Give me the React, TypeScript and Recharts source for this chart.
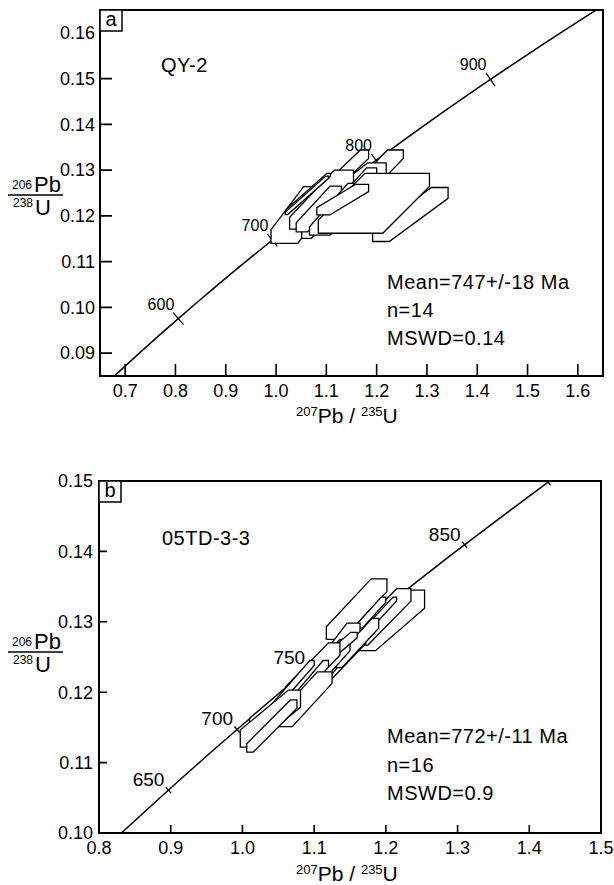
import React from "react";
import { ComposedChart, Line, Scatter, XAxis, YAxis, ReferenceArea } from "recharts";

// U decay constants (per year), used to place the concordia
const L238 = 1.55125e-10;
const L235 = 9.8485e-10;

// ages (Ma) the concordia curve is traced through
const curveAges = [
  500, 520, 540, 560, 580, 600, 620, 640, 660, 680, 700, 720, 740, 760, 780, 800, 820, 840, 860, 880, 900,
  920, 940, 960, 980, 1000,
];

// panel a : QY-2
const qyXTicks = [0.7, 0.8, 0.9, 1.0, 1.1, 1.2, 1.3, 1.4, 1.5, 1.6];
const qyYTicks = [0.09, 0.1, 0.11, 0.12, 0.13, 0.14, 0.15, 0.16];
const qyAgeTicks = [600, 700, 800, 900];
const qyAgeLabels = [600, 700, 800, 900];
// error boxes [207/235 low, 207/235 high, 206/238 low, 206/238 high]
const qyBoxes: [number, number, number, number][] = [
  [1.192, 1.342, 0.1144, 0.1262],
  [1.148, 1.253, 0.1242, 0.1344],
  [1.088, 1.184, 0.1242, 0.1344],
  [1.088, 1.219, 0.1213, 0.1316],
  [0.99, 1.108, 0.114, 0.1264],
  [1.051, 1.148, 0.1151, 0.1253],
  [1.027, 1.154, 0.1171, 0.13],
  [1.04, 1.13, 0.1165, 0.1265],
  [1.1, 1.2, 0.1185, 0.1305],
  [1.02, 1.108, 0.1207, 0.1293],
  [1.018, 1.104, 0.1203, 0.1287],
  [1.0665, 1.184, 0.1158, 0.1271],
  [1.084, 1.305, 0.1162, 0.1293],
  [1.081, 1.184, 0.1202, 0.1269],
];
// share of width / height cut off by the correlated band
const qyCuts: [number, number][] = [
  [0.22, 0.2], [0.3, 0.18], [0.17, 0.18], [0.28, 0.22], [0.45, 0.24], [0.2, 0.18], [0.3, 0.2],
  [0.25, 0.2], [0.2, 0.2], [0.08, 0.08], [0.06, 0.06], [0.35, 0.16], [0.58, 0.22], [0.25, 0.24],
];

// panel b : 05TD-3-3
const tdXTicks = [0.8, 0.9, 1.0, 1.1, 1.2, 1.3, 1.4, 1.5];
const tdYTicks = [0.1, 0.11, 0.12, 0.13, 0.14, 0.15];
const tdAgeTicks = [650, 700, 750, 800, 850, 900];
const tdAgeLabels = [650, 700, 750, 850];
const tdBoxes: [number, number, number, number][] = [
  [1.159, 1.254, 0.1259, 0.1345],
  [1.155, 1.235, 0.1267, 0.1347],
  [1.117, 1.2015, 0.1275, 0.1361],
  [1.165, 1.215, 0.128, 0.1335],
  [1.12, 1.2, 0.1245, 0.1335],
  [1.106, 1.172, 0.1213, 0.1291],
  [1.099, 1.164, 0.1215, 0.1298],
  [1.13, 1.19, 0.1235, 0.1305],
  [1.08, 1.15, 0.1195, 0.1275],
  [1.01, 1.16, 0.1155, 0.1285],
  [1.06, 1.136, 0.119, 0.127],
  [1.07, 1.12, 0.1185, 0.1245],
  [1.049, 1.125, 0.1151, 0.1229],
  [1.04, 1.1, 0.1175, 0.1245],
  [0.997, 1.081, 0.1122, 0.1203],
  [1.006, 1.076, 0.1115, 0.1189],
];
const tdCuts: [number, number][] = [
  [0.28, 0.3], [0.25, 0.22], [0.26, 0.21], [0.1, 0.1], [0.08, 0.08], [0.2, 0.28], [0.28, 0.25],
  [0.15, 0.2], [0.2, 0.2], [0.06, 0.06], [0.21, 0.22], [0.15, 0.15], [0.27, 0.21], [0.1, 0.1],
  [0.2, 0.3], [0.13, 0.16],
];

const FONT = "'Liberation Sans', Arial, Helvetica, sans-serif";
const X_AXIS_H = 30;
const Y_AXIS_W = 60;

const concordia = curveAges.map((a) => ({
  x: Math.exp(L235 * a * 1e6) - 1,
  y: Math.exp(L238 * a * 1e6) - 1,
}));

const hexShape = (fx: number, fy: number) => (p: any) => {
  const { x, y, width: w, height: h } = p;
  const L = x, R = x + w, T = y, B = y + h;
  const pts = [
    [L, B], [L, B - fy * h], [R - fx * w, T], [R, T], [R, T + fy * h], [L + fx * w, B],
  ];
  return (
    <polygon
      points={pts.map((q) => q.join(",")).join(" ")}
      fill="#fff"
      stroke="#000"
      strokeWidth={1.3}
    />
  );
};

interface PanelProps {
  width: number;
  height: number;
  plot: { top: number; right: number; bottom: number; left: number };
  xDomain: [number, number];
  yDomain: [number, number];
  xTicks: number[];
  yTicks: number[];
  ageTicks: number[];
  ageLabels: number[];
  boxes: [number, number, number, number][];
  cuts: [number, number][];
  letter: string;
  tickLen: number;
  crossHalf: number;
  ageFont: number;
  ageDx: number;
  ageDy: number;
  yLabelGap: number;
  hideY: number[];
}

const Panel = (p: PanelProps) => {
  const plotW = p.width - p.plot.left - p.plot.right;
  const plotH = p.height - p.plot.top - p.plot.bottom;
  const kx = plotW / (p.xDomain[1] - p.xDomain[0]);
  const ky = plotH / (p.yDomain[1] - p.yDomain[0]);
  const margin = {
    top: p.plot.top,
    right: p.plot.right,
    bottom: p.plot.bottom - X_AXIS_H,
    left: p.plot.left - Y_AXIS_W,
  };
  const near = (a: number, b: number) => Math.abs(a - b) < 1e-9;
  const innerX = p.xTicks.filter((v) => !near(v, p.xDomain[0]) && !near(v, p.xDomain[1]));
  const innerY = p.yTicks.filter(
    (v) => !near(v, p.yDomain[0]) && !near(v, p.yDomain[1]) && !p.hideY.some((h) => near(h, v)),
  );

  const crosses = p.ageTicks.map((a) => ({
    age: a,
    x: Math.exp(L235 * a * 1e6) - 1,
    y: Math.exp(L238 * a * 1e6) - 1,
  }));

  const crossShape = (s: any) => {
    const { cx, cy, payload } = s;
    const t = payload.age * 1e6;
    const dx = L235 * Math.exp(L235 * t) * kx;
    const dy = L238 * Math.exp(L238 * t) * ky;
    const n = Math.hypot(dx, dy);
    const nx = dy / n, ny = dx / n;
    return (
      <g>
        <line
          x1={cx - nx * p.crossHalf}
          y1={cy - ny * p.crossHalf}
          x2={cx + nx * p.crossHalf}
          y2={cy + ny * p.crossHalf}
          stroke="#000"
          strokeWidth={1.3}
        />
        {p.ageLabels.includes(payload.age) && (
          <text x={cx + p.ageDx} y={cy + p.ageDy} textAnchor="end" fontSize={p.ageFont} fontFamily={FONT} fill="#000">
            {payload.age}
          </text>
        )}
      </g>
    );
  };

  const xTick = (t: any) => (
    <text x={t.x} y={t.y + 21} textAnchor="middle" fontSize={18} fontFamily={FONT} fill="#000">
      {t.payload.value.toFixed(1)}
    </text>
  );

  const yTick = (t: any) => (
    <text x={t.x - p.yLabelGap} y={t.y} dy="0.35em" textAnchor="end" fontSize={18} fontFamily={FONT} fill="#000">
      {t.payload.value.toFixed(2)}
    </text>
  );

  // frame, inward tick marks and panel letter, placed on the plot rectangle the library computes
  const frameShape = (s: any) => {
    const x = Number(s.x), y = Number(s.y), width = Number(s.width), height = Number(s.height);
    const px = (v: number) => x + ((v - p.xDomain[0]) / (p.xDomain[1] - p.xDomain[0])) * width;
    const py = (v: number) => y + height - ((v - p.yDomain[0]) / (p.yDomain[1] - p.yDomain[0])) * height;
    const marks: string[] = [];
    innerX.forEach((v) => marks.push(`M${px(v)},${y + height}V${y + height - p.tickLen}`));
    innerY.forEach((v) => marks.push(`M${x},${py(v)}H${x + p.tickLen}`));
    return (
      <g>
        <path d={marks.join("")} stroke="#000" strokeWidth={1.6} fill="none" />
        <rect x={x} y={y} width={width} height={height} fill="none" stroke="#000" strokeWidth={2} />
        <rect x={x} y={y} width={22} height={21} fill="#fff" stroke="#000" strokeWidth={1.5} />
        <text x={x + 11} y={y + 16} textAnchor="middle" fontSize={20} fontFamily={FONT} fill="#000">
          {p.letter}
        </text>
      </g>
    );
  };

  return (
    <ComposedChart width={p.width} height={p.height} data={concordia} margin={margin}>
      <XAxis
        type="number"
        dataKey="x"
        domain={p.xDomain}
        ticks={p.xTicks}
        allowDataOverflow
        height={X_AXIS_H}
        axisLine={false}
        tickLine={false}
        tickSize={0}
        tickMargin={0}
        interval={0}
        tick={xTick}
      />
      <YAxis
        type="number"
        dataKey="y"
        domain={p.yDomain}
        ticks={p.yTicks}
        allowDataOverflow
        width={Y_AXIS_W}
        axisLine={false}
        tickLine={false}
        tickSize={0}
        tickMargin={0}
        interval={0}
        tick={yTick}
      />
      <Line type="linear" dataKey="y" stroke="#000" strokeWidth={1.5} dot={false} isAnimationActive={false} />
      <Scatter data={crosses} dataKey="y" shape={crossShape} isAnimationActive={false} />
      {p.boxes.map((b, i) => (
        <ReferenceArea
          key={i}
          x1={b[0]}
          x2={b[1]}
          y1={b[2]}
          y2={b[3]}
          zIndex={650}
          shape={hexShape(p.cuts[i][0], p.cuts[i][1])}
        />
      ))}
      <ReferenceArea
        x1={p.xDomain[0]}
        x2={p.xDomain[1]}
        y1={p.yDomain[0]}
        y2={p.yDomain[1]}
        zIndex={700}
        shape={frameShape}
      />
    </ComposedChart>
  );
};

const txt = { fontFamily: FONT, fill: "#000" };

const Fraction = ({ line }: { line: number }) => (
  <g>
    <text x={12} y={line - 6} fontSize={12} {...txt}>206</text>
    <text x={34} y={line - 3} fontSize={22} {...txt}>Pb</text>
    <line x1={8} x2={63} y1={line} y2={line} stroke="#000" strokeWidth={1.5} />
    <text x={13} y={line + 12} fontSize={12} {...txt}>238</text>
    <text x={35} y={line + 20} fontSize={22} {...txt}>U</text>
  </g>
);

const XTitle = ({ y }: { y: number }) => (
  <text x={296} y={y} fontSize={21} {...txt}>
    <tspan fontSize={13} dy={-7}>207</tspan>
    <tspan dy={7}>Pb / </tspan>
    <tspan fontSize={13} dy={-7}>235</tspan>
    <tspan dy={7}>U</tspan>
  </text>
);

const Note = ({ x, y, children }: { x: number; y: number; children: React.ReactNode }) => (
  <text x={x} y={y} fontSize={20} letterSpacing={0.5} {...txt}>
    {children}
  </text>
);

export default function App() {
  return (
    <div style={{ position: "absolute", left: 0, top: 0, width: 614, height: 885, background: "#fff", fontFamily: FONT }}>
      <div style={{ position: "absolute", left: 0, top: 0 }}>
        <Panel
          width={614}
          height={420}
          plot={{ top: 10, right: 11, bottom: 44, left: 100 }}
          xDomain={[0.65, 1.65]}
          yDomain={[0.085, 0.165]}
          xTicks={qyXTicks}
          yTicks={qyYTicks}
          ageTicks={qyAgeTicks}
          ageLabels={qyAgeLabels}
          boxes={qyBoxes}
          cuts={qyCuts}
          letter="a"
          tickLen={12}
          crossHalf={8}
          ageFont={16}
          ageDx={-4}
          ageDy={-9}
          yLabelGap={5}
          hideY={[0.16]}
        />
      </div>
      <div style={{ position: "absolute", left: 0, top: 420 }}>
        <Panel
          width={614}
          height={465}
          plot={{ top: 61, right: 13, bottom: 52, left: 99 }}
          xDomain={[0.8, 1.5]}
          yDomain={[0.1, 0.15]}
          xTicks={tdXTicks}
          yTicks={tdYTicks}
          ageTicks={tdAgeTicks}
          ageLabels={tdAgeLabels}
          boxes={tdBoxes}
          cuts={tdCuts}
          letter="b"
          tickLen={8}
          crossHalf={4}
          ageFont={19}
          ageDx={-4}
          ageDy={-4}
          yLabelGap={6}
          hideY={[]}
        />
      </div>
      <svg width={614} height={885} style={{ position: "absolute", left: 0, top: 0, pointerEvents: "none" }}>
        <Fraction line={195} />
        <Fraction line={652} />
        <XTitle y={423} />
        <XTitle y={881} />
        <Note x={161} y={72}>QY-2</Note>
        <Note x={387} y={289}>Mean=747+/-18 Ma</Note>
        <Note x={387} y={317}>n=14</Note>
        <Note x={387} y={345}>MSWD=0.14</Note>
        <Note x={162} y={545}>05TD-3-3</Note>
        <Note x={387} y={743}>Mean=772+/-11 Ma</Note>
        <Note x={387} y={772}>n=16</Note>
        <Note x={387} y={800}>MSWD=0.9</Note>
      </svg>
    </div>
  );
}
